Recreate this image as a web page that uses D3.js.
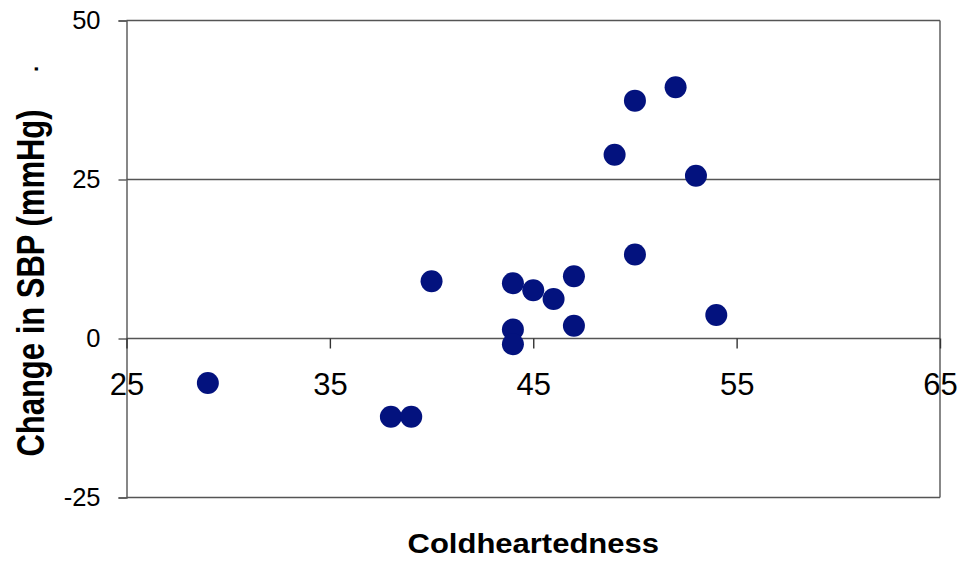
<!DOCTYPE html>
<html>
<head>
<meta charset="utf-8">
<script src="https://cdn.jsdelivr.net/npm/d3@7"></script>
<style>
  body { margin: 0; background: #fff; }
  svg { font-family: "Liberation Sans", Arial, sans-serif; }
</style>
</head>
<body>
<div id="chart"></div>
<script>
// coldheartedness score vs change in systolic BP
var coldness = [29, 38, 39, 40, 44, 44, 44, 45, 46, 47, 47, 49, 50, 50, 52, 53, 54];
var sbpChange = [-7, -12.3, -12.3, 9, 8.7, 1.4, -0.9, 7.6, 6.2, 9.8, 2.0, 28.9, 37.4, 13.2, 39.5, 25.6, 3.7];
var xTicks = [25, 35, 45, 55, 65];
var yTicks = [-25, 0, 25, 50];

var points = coldness.map(function (c, i) {
    return {x: c, y: sbpChange[i]};
});

var W = 965, H = 561;
var margin = {top: 20.5, right: 25, bottom: 63.5, left: 126.5};
var width = W - margin.left - margin.right;
var height = H - margin.top - margin.bottom;

var xScale = d3.scaleLinear().domain([25, 65]).range([0, width]);
var yScale = d3.scaleLinear().domain([-25, 50]).range([height, 0]);

// plain hyphen for negatives, like the original
var fmt = function (d) { return String(d); };

var svg = d3.select("#chart").append("svg")
    .attr("width", W)
    .attr("height", H);

var g = svg.append("g")
    .attr("transform", "translate(" + margin.left + "," + margin.top + ")");

// horizontal gridlines
g.selectAll(".grid")
    .data(yTicks)
    .enter().append("line")
    .attr("class", "grid")
    .attr("x1", 0)
    .attr("x2", width)
    .attr("y1", function (d) { return yScale(d); })
    .attr("y2", function (d) { return yScale(d); })
    .attr("stroke", "#555")
    .attr("stroke-width", 1.4);

// right border
g.append("line")
    .attr("x1", width).attr("x2", width)
    .attr("y1", 0).attr("y2", height)
    .attr("stroke", "#555")
    .attr("stroke-width", 1.4);

var yAxis = d3.axisLeft(yScale)
    .tickValues(yTicks)
    .tickSize(8)
    .tickPadding(18)
    .tickFormat(fmt);

var yG = g.append("g").call(yAxis);
yG.select(".domain").attr("stroke", "#555").attr("stroke-width", 1.4);
yG.selectAll(".tick line").attr("stroke", "#555").attr("stroke-width", 1.4);
yG.selectAll(".tick text")
    .attr("fill", "#000")
    .style("font-size", "25.5px")
    .style("font-family", "Liberation Sans, Arial, sans-serif");

var xAxis = d3.axisBottom(xScale)
    .tickValues(xTicks)
    .tickSize(10)
    .tickPadding(24)
    .tickSizeOuter(0)
    .tickFormat(fmt);

var xG = g.append("g")
    .attr("transform", "translate(0," + yScale(0) + ")")
    .call(xAxis);
xG.select(".domain").remove();
xG.selectAll(".tick line").attr("stroke", "#333").attr("stroke-width", 1.4);
xG.selectAll(".tick text")
    .attr("fill", "#000")
    .style("font-size", "31px")
    .style("font-family", "Liberation Sans, Arial, sans-serif");

// points
g.selectAll(".dot")
    .data(points)
    .enter().append("circle")
    .attr("class", "dot")
    .attr("cx", function (d) { return xScale(d.x); })
    .attr("cy", function (d) { return yScale(d.y); })
    .attr("r", 11)
    .attr("fill", "#03127e");

// axis titles
svg.append("text")
    .attr("transform", "translate(" + (margin.left + xScale(45)) + ",553) scale(1,0.92)")
    .attr("text-anchor", "middle")
    .style("font-size", "31px")
    .style("font-weight", "bold")
    .text("Coldheartedness");

svg.append("text")
    .attr("transform", "translate(44,283) scale(1.28,1) rotate(-90)")
    .attr("text-anchor", "middle")
    .style("font-size", "31px")
    .style("font-weight", "bold")
    .text("Change in SBP (mmHg)");

svg.append("text")
    .attr("transform", "translate(38,72) rotate(-90)")
    .style("font-size", "22px")
    .style("font-weight", "bold")
    .text(".");
</script>
</body>
</html>
